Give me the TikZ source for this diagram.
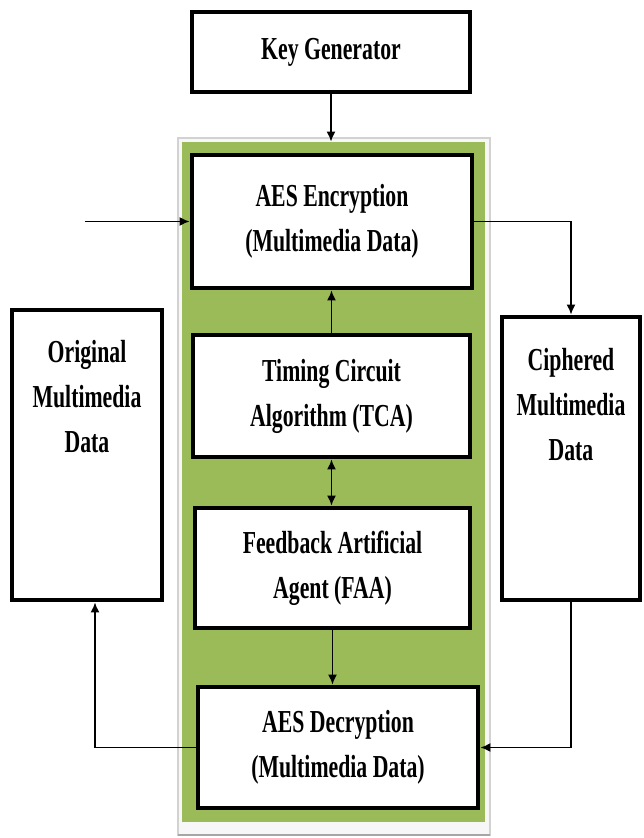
\documentclass[tikz,border=0pt]{standalone}
\usepackage{fontspec}
\setmainfont{Liberation Serif}[FakeStretch=0.68]
\usepackage{tikz}
\usetikzlibrary{arrows,arrows.meta,calc,positioning}
\definecolor{panelgreen}{RGB}{155,187,89}

\begin{document}
\begin{tikzpicture}[x=0.5pt,y=-0.5pt,
  block/.style={draw=black,line width=2.4pt,fill=white,inner sep=0pt,
    align=center,font=\fontsize{16}{22.5}\selectfont\bfseries},
  sidetext/.style={inner sep=0pt,align=center,font=\fontsize{16}{22.5}\selectfont\bfseries},
  link/.style={draw=black,line width=0.8pt,-{Latex[length=5pt,width=4.5pt]}}]
\useasboundingbox (0,0) rectangle (643,838);
% shaded frame and green panel
\draw[gray!35,fill=gray!6,line width=0.8pt] (178,138) rectangle (490,835);
\draw[gray!70,line width=1.2pt] (178,835) -- (490,835);
\node[fill=panelgreen,inner sep=0pt,minimum width=151.5pt,minimum height=340pt] (panel) at (333.5,482) {};
% blocks
\node[block,minimum width=139pt,minimum height=40pt] (keygen) at (331,52) {Key Generator};
\node[block,minimum width=140pt,minimum height=66.5pt] (aesenc) at (332,221.5) {AES Encryption\\(Multimedia Data)};
\node[block,minimum width=138.5pt,minimum height=61pt] (tca) at (331.5,396) {Timing Circuit\\Algorithm (TCA)};
\node[block,minimum width=137.5pt,minimum height=60pt] (faa) at (332.5,568) {Feedback Artificial\\Agent (FAA)};
\node[block,minimum width=140pt,minimum height=60.5pt] (aesdec) at (338,747.5) {AES Decryption\\(Multimedia Data)};
\node[block,minimum width=75pt,minimum height=145pt] (orig) at (87,455) {};
\node[sidetext] (origtext) at (87,397) {Original\\Multimedia\\Data};
\node[block,minimum width=69pt,minimum height=141.5pt] (ciph) at (571,458.5) {};
\node[sidetext] (ciphtext) at (571,405) {Ciphered\\Multimedia\\Data};
\coordinate (input) at (85,221.5);
% connectors
\draw[link] (keygen.south) -- (keygen.south |- panel.north);
\draw[link] (input) -- (aesenc.west);
\draw[link] (aesenc.east) -| (ciph.north);
\draw[link] (tca.north) -- (tca.north |- aesenc.south);
\draw[link,{Latex[length=5pt,width=4.5pt]}-{Latex[length=5pt,width=4.5pt]}] (tca.south) -- (tca.south |- faa.north);
\draw[link] (faa.south) -- (faa.south |- aesdec.north);
\draw[link] (ciph.south) |- (aesdec.east);
\draw[link] (aesdec.west) -| ([xshift=4pt]orig.south);
\end{tikzpicture}
\end{document}
